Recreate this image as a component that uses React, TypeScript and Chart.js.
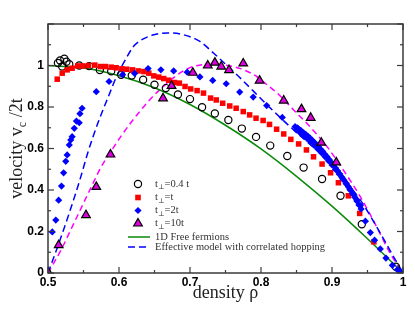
import React, { useEffect, useRef } from 'react';
import { Chart, registerables } from 'chart.js';

Chart.register(...registerables);

// ---------- data ----------
const xMajorTicks = [0.5, 0.6, 0.7, 0.8, 0.9, 1.0];
const xMinorTicks = [0.55, 0.65, 0.75, 0.85, 0.95];
const yMajorTicks = [0, 0.2, 0.4, 0.6, 0.8, 1.0, 1.2];
const yMinorTicks = [0.1, 0.3, 0.5, 0.7, 0.9, 1.1];

const legendLabels = ['=0.4 t', '=t', '=2t', '=10t', '1D Free fermions', 'Effective model with correlated hopping'];

// t_perp = 0.4 t  (open circles)
const circleRho = [0.514, 0.517, 0.520, 0.523, 0.526, 0.530, 0.544, 0.558, 0.573, 0.589, 0.603, 0.618, 0.634, 0.650, 0.666, 0.683, 0.700, 0.717, 0.735, 0.754, 0.773, 0.793, 0.813, 0.837, 0.860, 0.886, 0.912, 0.942, 0.990];
const circleV = [1.012, 1.024, 0.995, 1.033, 1.018, 1.006, 1.0, 0.997, 0.978, 0.972, 0.955, 0.952, 0.931, 0.907, 0.891, 0.860, 0.838, 0.799, 0.769, 0.737, 0.696, 0.656, 0.614, 0.564, 0.508, 0.453, 0.372, 0.235, 0.03];

// t_perp = t (red squares)
const squareRho = [0.513, 0.520, 0.527, 0.534, 0.542, 0.549, 0.557, 0.566, 0.574, 0.581, 0.589, 0.596, 0.604, 0.611, 0.619, 0.627, 0.635, 0.642, 0.649, 0.656, 0.663, 0.670, 0.678, 0.685, 0.693, 0.701, 0.710, 0.719, 0.729, 0.737, 0.746, 0.756, 0.765, 0.775, 0.784, 0.793, 0.803, 0.812, 0.822, 0.832, 0.842, 0.853, 0.864, 0.874, 0.886, 0.898, 0.909, 0.923, 0.939, 0.959];
const squareV = [0.934, 0.963, 0.979, 0.987, 0.998, 0.998, 1.0, 1.002, 0.995, 0.995, 0.992, 0.989, 0.984, 0.982, 0.979, 0.974, 0.971, 0.963, 0.950, 0.944, 0.937, 0.929, 0.918, 0.915, 0.899, 0.887, 0.879, 0.867, 0.843, 0.834, 0.818, 0.805, 0.794, 0.778, 0.762, 0.746, 0.735, 0.716, 0.693, 0.670, 0.644, 0.622, 0.593, 0.560, 0.525, 0.483, 0.435, 0.372, 0.287, 0.150];

// t_perp = 2t (blue diamonds)
const diamondRho = [0.506, 0.511, 0.515, 0.519, 0.522, 0.525, 0.527, 0.530, 0.532, 0.534, 0.537, 0.540, 0.544, 0.545, 0.548, 0.568, 0.586, 0.605, 0.622, 0.641, 0.659, 0.677, 0.696, 0.714, 0.732, 0.751, 0.770, 0.789, 0.808, 0.830, 0.851,
  0.848, 0.852, 0.856, 0.860, 0.863, 0.866, 0.869, 0.872, 0.875, 0.878, 0.881, 0.884, 0.887, 0.890, 0.893, 0.896, 0.899, 0.902, 0.905, 0.908, 0.911, 0.914, 0.917, 0.920, 0.923, 0.926, 0.929, 0.932, 0.935, 0.938, 0.941,
  0.850, 0.855, 0.860, 0.865, 0.870, 0.875, 0.880, 0.885, 0.890, 0.895, 0.900, 0.905, 0.910, 0.915, 0.920, 0.925, 0.930, 0.935, 0.940,
  0.947, 0.954, 0.960, 0.968, 0.976, 0.985, 0.992, 0.997];
const diamondV = [0.198, 0.255, 0.351, 0.419, 0.483, 0.538, 0.569, 0.617, 0.641, 0.657, 0.697, 0.732, 0.724, 0.768, 0.794, 0.874, 0.923, 0.956, 0.962, 0.985, 0.979, 0.974, 0.968, 0.945, 0.928, 0.912, 0.872, 0.848, 0.807, 0.750, 0.700,
  0.705, 0.697, 0.688, 0.676, 0.668, 0.660, 0.650, 0.640, 0.630, 0.619, 0.608, 0.596, 0.585, 0.572, 0.560, 0.547, 0.533, 0.520, 0.506, 0.492, 0.477, 0.462, 0.447, 0.432, 0.416, 0.399, 0.382, 0.365, 0.347, 0.328, 0.309,
  0.690, 0.676, 0.662, 0.648, 0.632, 0.615, 0.598, 0.580, 0.561, 0.541, 0.521, 0.499, 0.477, 0.454, 0.430, 0.405, 0.380, 0.353, 0.325,
  0.250, 0.195, 0.158, 0.116, 0.072, 0.037, 0.016, 0.005];

// t_perp = 10t (magenta triangles)
const triangleRho = [0.500, 0.515, 0.5535, 0.568, 0.588, 0.662, 0.674, 0.704, 0.725, 0.735, 0.744, 0.755, 0.775, 0.798, 0.832, 0.857, 0.870, 0.885, 0.906];
const triangleV = [0.005, 0.134, 0.279, 0.415, 0.571, 0.842, 0.902, 0.965, 1.0, 1.014, 0.995, 0.978, 1.01, 0.927, 0.831, 0.79, 0.748, 0.628, 0.533];

// 1D free fermions (green solid)
const freeRho = [0.5, 0.55, 0.6, 0.65, 0.7, 0.75, 0.8, 0.85, 0.9, 0.95, 1.0];
const freeV = [1.0, 0.988, 0.951, 0.893, 0.812, 0.712, 0.598, 0.466, 0.322, 0.165, 0.0];

// effective model (blue dashed)
const effRho = [0.5, 0.515, 0.53, 0.545, 0.557, 0.57, 0.585, 0.597, 0.611, 0.62, 0.63, 0.649, 0.668, 0.691, 0.714, 0.733, 0.752, 0.771, 0.79, 0.808, 0.846, 0.893, 0.94, 0.963, 0.987, 1.0];
const effV = [0.0, 0.14, 0.29, 0.45, 0.59, 0.72, 0.85, 0.95, 1.04, 1.09, 1.12, 1.148, 1.157, 1.148, 1.116, 1.06, 1.0, 0.939, 0.874, 0.812, 0.689, 0.544, 0.351, 0.222, 0.077, 0.0];

// magenta dashed curve
const magRho = [0.5, 0.519, 0.533, 0.547, 0.561, 0.575, 0.59, 0.604, 0.618, 0.632, 0.646, 0.66, 0.679, 0.7, 0.724, 0.747, 0.771, 0.794, 0.811, 0.822, 0.846, 0.869, 0.893, 0.916, 0.94, 0.963, 0.982, 1.0];
const magV = [0.0, 0.115, 0.215, 0.315, 0.415, 0.512, 0.593, 0.665, 0.73, 0.79, 0.845, 0.891, 0.947, 0.99, 1.005, 1.003, 0.985, 0.947, 0.9, 0.87, 0.786, 0.705, 0.609, 0.496, 0.367, 0.222, 0.094, 0.0];

// ---------- styles ----------
const FRAME = '#3a3a3a';
const GREEN = '#0a8a0a';
const BLUE = '#0000ff';
const RED = '#ff0000';
const MAGENTA = '#dd00dd';
const SERIF = '"Liberation Serif", "Times New Roman", "DejaVu Serif", serif';
const SANS = '"Liberation Sans", Arial, sans-serif';

const pts = (xs: number[], ys: number[]) => xs.map((x, i) => ({ x, y: ys[i] }));

function drawSymbol(ctx: CanvasRenderingContext2D, kind: string, x: number, y: number) {
  ctx.save();
  ctx.setLineDash([]);
  if (kind === 'circle') {
    ctx.beginPath();
    ctx.arc(x, y, 3.6, 0, Math.PI * 2);
    ctx.strokeStyle = '#000';
    ctx.lineWidth = 1.2;
    ctx.stroke();
  } else if (kind === 'rect') {
    ctx.fillStyle = RED;
    ctx.fillRect(x - 2.8, y - 2.8, 5.6, 5.6);
  } else if (kind === 'rectRot') {
    const r = 3.6;
    ctx.beginPath();
    ctx.moveTo(x - r, y);
    ctx.lineTo(x, y - r);
    ctx.lineTo(x + r, y);
    ctx.lineTo(x, y + r);
    ctx.closePath();
    ctx.fillStyle = BLUE;
    ctx.fill();
  } else if (kind === 'triangle') {
    const r = 5;
    ctx.beginPath();
    ctx.moveTo(x, y - r);
    ctx.lineTo(x + 0.866 * r, y + 0.5 * r);
    ctx.lineTo(x - 0.866 * r, y + 0.5 * r);
    ctx.closePath();
    ctx.fillStyle = MAGENTA;
    ctx.fill();
    ctx.strokeStyle = '#000';
    ctx.lineWidth = 1.2;
    ctx.stroke();
  }
  ctx.restore();
}

const decorPlugin = {
  id: 'decor',
  afterDraw(chart: any) {
    const { ctx, chartArea: a, scales } = chart;
    const xs = scales.x;
    const ys = scales.y;
    ctx.save();
    // inward ticks on all four sides
    ctx.strokeStyle = FRAME;
    ctx.lineWidth = 1.2;
    ctx.setLineDash([]);
    const tick = (x1: number, y1: number, x2: number, y2: number) => {
      ctx.beginPath();
      ctx.moveTo(x1, y1);
      ctx.lineTo(x2, y2);
      ctx.stroke();
    };
    xMajorTicks.forEach((v) => {
      const p = xs.getPixelForValue(v);
      tick(p, a.bottom, p, a.bottom - 6);
      tick(p, a.top, p, a.top + 6);
    });
    xMinorTicks.forEach((v) => {
      const p = xs.getPixelForValue(v);
      tick(p, a.bottom, p, a.bottom - 3);
      tick(p, a.top, p, a.top + 3);
    });
    yMajorTicks.forEach((v) => {
      const p = ys.getPixelForValue(v);
      tick(a.left, p, a.left + 6, p);
      tick(a.right, p, a.right - 6, p);
    });
    yMinorTicks.forEach((v) => {
      const p = ys.getPixelForValue(v);
      tick(a.left, p, a.left + 3, p);
      tick(a.right, p, a.right - 3, p);
    });
    // frame
    ctx.lineWidth = 1.5;
    ctx.strokeRect(a.left, a.top, a.right - a.left, a.bottom - a.top);

    // axis titles
    ctx.fillStyle = '#222';
    ctx.textBaseline = 'alphabetic';
    ctx.font = `18px ${SERIF}`;
    ctx.textAlign = 'center';
    ctx.fillText('density \u03c1', (a.left + a.right) / 2, 298);

    // y title with subscript
    ctx.save();
    const cy = (a.top + a.bottom) / 2;
    ctx.translate(22, cy);
    ctx.rotate(-Math.PI / 2);
    ctx.textAlign = 'left';
    const p1 = 'velocity v';
    const p3 = ' /2t';
    ctx.font = `18px ${SERIF}`;
    const w1 = ctx.measureText(p1).width;
    const w3 = ctx.measureText(p3).width;
    ctx.font = `12px ${SERIF}`;
    const w2 = ctx.measureText('c').width;
    const total = w1 + w2 + w3;
    let sx = -total / 2;
    ctx.font = `18px ${SERIF}`;
    ctx.fillText(p1, sx, 0);
    sx += w1;
    ctx.font = `12px ${SERIF}`;
    ctx.fillText('c', sx, 4);
    sx += w2;
    ctx.font = `18px ${SERIF}`;
    ctx.fillText(p3, sx, 0);
    ctx.restore();

    // legend
    const symX = 138;
    const textX = 155;
    const rows = [184, 197.5, 210.5, 223.5];
    const kinds = ['circle', 'rect', 'rectRot', 'triangle'];
    ctx.textAlign = 'left';
    ctx.textBaseline = 'middle';
    rows.forEach((ry, i) => {
      drawSymbol(ctx, kinds[i], symX, ry);
      ctx.fillStyle = '#333';
      ctx.font = `10.5px ${SERIF}`;
      ctx.fillText('t', textX, ry);
      const tw = ctx.measureText('t').width;
      ctx.font = `7px ${SERIF}`;
      ctx.fillText('\u22a5', textX + tw, ry + 3.5);
      const pw = ctx.measureText('\u22a5').width;
      ctx.font = `10.5px ${SERIF}`;
      ctx.fillText(legendLabels[i], textX + tw + pw, ry);
    });
    const lineRows = [237, 247];
    const lineColors = [GREEN, BLUE];
    lineRows.forEach((ry, i) => {
      ctx.save();
      ctx.strokeStyle = lineColors[i];
      ctx.lineWidth = 1.5;
      ctx.setLineDash(i === 1 ? [7, 4] : []);
      ctx.beginPath();
      ctx.moveTo(128, ry);
      ctx.lineTo(150, ry);
      ctx.stroke();
      ctx.restore();
      ctx.fillStyle = '#333';
      ctx.font = `10.5px ${SERIF}`;
      ctx.fillText(legendLabels[4 + i], textX, ry);
    });
    ctx.restore();
  },
};

export default function App() {
  const ref = useRef<HTMLCanvasElement | null>(null);
  useEffect(() => {
    if (!ref.current) return;
    const lineBase = {
      showLine: true,
      pointRadius: 0,
      pointHoverRadius: 0,
      borderWidth: 1.5,
      fill: false,
      cubicInterpolationMode: 'monotone' as const,
    };
    const chart = new Chart(ref.current, {
      type: 'scatter',
      data: {
        datasets: [
          { ...lineBase, label: 'free', data: pts(freeRho, freeV), borderColor: GREEN, order: 10 },
          { ...lineBase, label: 'eff', data: pts(effRho, effV), borderColor: BLUE, borderDash: [7, 4], order: 11 },
          { ...lineBase, label: 'mag', data: pts(magRho, magV), borderColor: '#ff00ff', borderDash: [6, 4], order: 12 },
          {
            label: 't=0.4t', data: pts(circleRho, circleV), pointStyle: 'circle', pointRadius: 3.6,
            backgroundColor: 'rgba(0,0,0,0)', borderColor: '#000', borderWidth: 1.2, order: 4,
          },
          {
            label: 't=t', data: pts(squareRho, squareV), pointStyle: 'rect', pointRadius: 3.9,
            backgroundColor: RED, borderColor: RED, borderWidth: 0, order: 3,
          },
          {
            label: 't=2t', data: pts(diamondRho, diamondV), pointStyle: 'rectRot', pointRadius: 3.6,
            backgroundColor: BLUE, borderColor: BLUE, borderWidth: 0, order: 2,
          },
          {
            label: 't=10t', data: pts(triangleRho, triangleV), pointStyle: 'triangle', pointRadius: 5,
            backgroundColor: MAGENTA, borderColor: '#000', borderWidth: 1.2, order: 1,
          },
        ],
      },
      options: {
        animation: false,
        responsive: false,
        maintainAspectRatio: false,
        events: [],
        layout: { padding: { top: 24, right: 12, left: 0, bottom: 0 } },
        plugins: { legend: { display: false }, tooltip: { enabled: false } },
        scales: {
          x: {
            type: 'linear',
            min: 0.5,
            max: 1.0,
            grid: { display: false, drawTicks: false },
            border: { display: false },
            afterFit: (s: any) => { s.height = 48; },
            ticks: {
              stepSize: 0.1,
              autoSkip: false,
              maxRotation: 0,
              padding: 2,
              color: '#000',
              font: { family: SANS, weight: 'bold', size: 12 },
              callback: (v: any) => String(Math.round(Number(v) * 10) / 10),
            },
          },
          y: {
            type: 'linear',
            min: 0,
            max: 1.2,
            grid: { display: false, drawTicks: false },
            border: { display: false },
            afterFit: (s: any) => { s.width = 48; },
            ticks: {
              stepSize: 0.2,
              autoSkip: false,
              padding: 4,
              color: '#000',
              font: { family: SANS, weight: 'bold', size: 12 },
              callback: (v: any) => (Number(v) > 1.1 ? '' : String(Math.round(Number(v) * 10) / 10)),
            },
          },
        },
      },
      plugins: [decorPlugin],
    });
    return () => chart.destroy();
  }, []);
  return (
    <div style={{ position: 'fixed', left: 0, top: 0, width: 415, height: 321, background: '#fff' }}>
      <canvas ref={ref} width={415} height={321} style={{ display: 'block', width: 415, height: 321 }} />
    </div>
  );
}
